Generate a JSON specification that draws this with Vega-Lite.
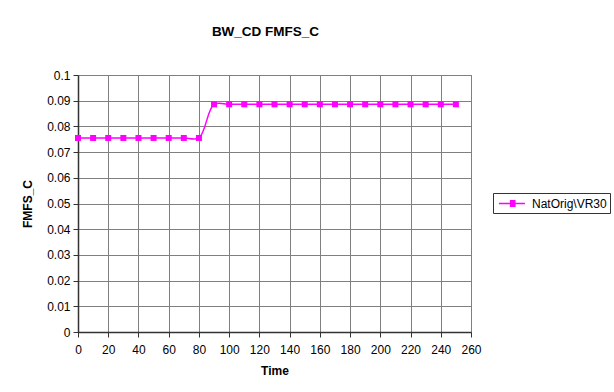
{
  "$schema": "https://vega.github.io/schema/vega-lite/v6.json",
  "width": 393,
  "height": 257,
  "autosize": {"type": "none"},
  "padding": {"left": 78, "top": 75, "right": 143, "bottom": 60},
  "background": "white",
  "title": {
    "text": "BW_CD FMFS_C",
    "font": "Liberation Sans",
    "fontSize": 13.5,
    "fontWeight": "bold",
    "color": "black",
    "anchor": "middle",
    "frame": "group",
    "baseline": "alphabetic",
    "offset": 20,
    "dx": -9
  },
  "data": {
    "values": [
      {"Time": 0, "FMFS_C": 0.0755, "series": "NatOrig\\VR30"},
      {"Time": 10, "FMFS_C": 0.0755, "series": "NatOrig\\VR30"},
      {"Time": 20, "FMFS_C": 0.0755, "series": "NatOrig\\VR30"},
      {"Time": 30, "FMFS_C": 0.0755, "series": "NatOrig\\VR30"},
      {"Time": 40, "FMFS_C": 0.0755, "series": "NatOrig\\VR30"},
      {"Time": 50, "FMFS_C": 0.0755, "series": "NatOrig\\VR30"},
      {"Time": 60, "FMFS_C": 0.0755, "series": "NatOrig\\VR30"},
      {"Time": 70, "FMFS_C": 0.0755, "series": "NatOrig\\VR30"},
      {"Time": 80, "FMFS_C": 0.0755, "series": "NatOrig\\VR30"},
      {"Time": 90, "FMFS_C": 0.0886, "series": "NatOrig\\VR30"},
      {"Time": 100, "FMFS_C": 0.0886, "series": "NatOrig\\VR30"},
      {"Time": 110, "FMFS_C": 0.0886, "series": "NatOrig\\VR30"},
      {"Time": 120, "FMFS_C": 0.0886, "series": "NatOrig\\VR30"},
      {"Time": 130, "FMFS_C": 0.0886, "series": "NatOrig\\VR30"},
      {"Time": 140, "FMFS_C": 0.0886, "series": "NatOrig\\VR30"},
      {"Time": 150, "FMFS_C": 0.0886, "series": "NatOrig\\VR30"},
      {"Time": 160, "FMFS_C": 0.0886, "series": "NatOrig\\VR30"},
      {"Time": 170, "FMFS_C": 0.0886, "series": "NatOrig\\VR30"},
      {"Time": 180, "FMFS_C": 0.0886, "series": "NatOrig\\VR30"},
      {"Time": 190, "FMFS_C": 0.0886, "series": "NatOrig\\VR30"},
      {"Time": 200, "FMFS_C": 0.0886, "series": "NatOrig\\VR30"},
      {"Time": 210, "FMFS_C": 0.0886, "series": "NatOrig\\VR30"},
      {"Time": 220, "FMFS_C": 0.0886, "series": "NatOrig\\VR30"},
      {"Time": 230, "FMFS_C": 0.0886, "series": "NatOrig\\VR30"},
      {"Time": 240, "FMFS_C": 0.0886, "series": "NatOrig\\VR30"},
      {"Time": 250, "FMFS_C": 0.0886, "series": "NatOrig\\VR30"}
    ]
  },
  "mark": {
    "type": "line",
    "interpolate": "catmull-rom",
    "strokeWidth": 1.5,
    "point": {"shape": "square", "size": 36, "filled": true, "opacity": 1}
  },
  "encoding": {
    "x": {
      "field": "Time",
      "type": "quantitative",
      "scale": {"domain": [0, 260], "nice": false},
      "axis": {
        "values": [0, 20, 40, 60, 80, 100, 120, 140, 160, 180, 200, 220, 240, 260],
        "title": "Time",
        "titlePadding": 10,
        "labelFlush": false,
        "labelOverlap": false
      }
    },
    "y": {
      "field": "FMFS_C",
      "type": "quantitative",
      "scale": {"domain": [0, 0.1], "nice": false},
      "axis": {
        "values": [0, 0.01, 0.02, 0.03, 0.04, 0.05, 0.06, 0.07, 0.08, 0.09, 0.1],
        "format": "~g",
        "title": "FMFS_C",
        "titlePadding": 12,
        "labelFlush": false,
        "labelOverlap": false
      }
    },
    "color": {
      "field": "series",
      "type": "nominal",
      "scale": {"range": ["#FF00FF"]},
      "legend": {
        "title": null,
        "orient": "none",
        "legendX": 415,
        "legendY": 118,
        "strokeColor": "#333333",
        "fillColor": "white",
        "padding": 3,
        "symbolType": "M-0.7,0L3.3,0M1.1,-0.42L1.74,-0.42L1.74,0.42L1.1,0.42Z",
        "symbolSize": 169,
        "symbolStrokeWidth": 1.5,
        "symbolFillColor": "#FF00FF",
        "symbolStrokeColor": "#FF00FF",
        "labelFont": "Liberation Sans",
        "labelFontSize": 12,
        "labelColor": "black",
        "labelOffset": 21
      }
    }
  },
  "config": {
    "font": "Liberation Sans",
    "view": {"stroke": "#808080", "strokeWidth": 1},
    "axis": {
      "labelFont": "Liberation Sans",
      "labelFontSize": 12,
      "labelColor": "black",
      "titleFont": "Liberation Sans",
      "titleFontSize": 12,
      "titleFontWeight": "bold",
      "titleColor": "black",
      "domainColor": "#333333",
      "domainWidth": 1.5,
      "tickColor": "#333333",
      "tickSize": 5,
      "gridColor": "#808080",
      "gridOpacity": 1,
      "gridWidth": 1
    },
    "axisX": {"labelPadding": 7},
    "axisY": {"labelPadding": 3}
  }
}
